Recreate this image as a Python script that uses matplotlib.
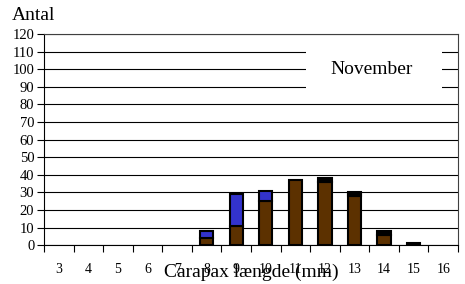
import matplotlib
matplotlib.use("Agg")
import matplotlib.pyplot as plt
from matplotlib.patches import Rectangle
import numpy as np

plt.rcParams["font.family"] = ["Liberation Serif", "DejaVu Serif"]

# Carapax length classes (mm) and counts per stacked series
lengths = [3, 4, 5, 6, 7, 8, 9, 10, 11, 12, 13, 14, 15, 16]
brown_vals = [0, 0, 0, 0, 0, 4, 11, 25, 37, 36, 28, 6, 0, 0]
blue_vals = [0, 0, 0, 0, 0, 4, 18, 6, 0, 0, 0, 0, 0, 0]
red_vals = [0, 0, 0, 0, 0, 0, 0, 0, 0, 0, 1, 0, 0, 0]
black_vals = [0, 0, 0, 0, 0, 0, 0, 0, 0, 2, 1, 2, 1, 0]

series = [
    (brown_vals, "#5c3100"),
    (blue_vals, "#3333cc"),
    (red_vals, "#ff0000"),
    (black_vals, "#000000"),
]

fig = plt.figure(figsize=(4.65, 2.84), dpi=100)
ax = fig.add_axes([0.0946, 0.137, 0.8904, 0.743])

x = np.arange(len(lengths))
bottom = np.zeros(len(lengths))
for vals, color in series:
    vals = np.array(vals, dtype=float)
    mask = vals > 0
    ax.bar(x[mask], vals[mask], bottom=bottom[mask], width=0.45,
           color=color, edgecolor="black", linewidth=1.5, zorder=3)
    bottom += vals

ax.set_xlim(-0.5, len(lengths) - 0.5)
ax.set_ylim(0, 120)
ax.set_yticks(range(0, 121, 10))
ax.yaxis.grid(True, color="black", linewidth=0.8)
ax.set_axisbelow(True)

ax.set_xticks(x)
ax.set_xticklabels([str(v) for v in lengths])
ax.set_xticks(np.arange(-0.5, len(lengths)), minor=True)
ax.tick_params(axis="x", which="major", length=0, pad=13, labelsize=10)
ax.tick_params(axis="x", which="minor", length=5, width=0.8, direction="out")
ax.tick_params(axis="y", length=5, width=0.8, labelsize=10.5, pad=2)

for side in ["top", "right", "left", "bottom"]:
    ax.spines[side].set_linewidth(0.8)
    ax.spines[side].set_color("black")
ax.spines["top"].set_color("#404040")
ax.spines["right"].set_color("#404040")

ax.set_xlabel("Carapax længde (mm)", fontsize=14, labelpad=-9)
fig.text(0.026, 0.915, "Antal", fontsize=14, ha="left", va="bottom")

# white legend-like box covering the gridlines
ax.add_patch(Rectangle((0.633, 84 / 120), 0.328, 32 / 120, transform=ax.transAxes,
                       facecolor="white", edgecolor="none", zorder=4))
ax.text(0.792, 100 / 120, "November", transform=ax.transAxes, fontsize=14,
        ha="center", va="center", zorder=5)

fig.savefig("out.png", dpi=100)
